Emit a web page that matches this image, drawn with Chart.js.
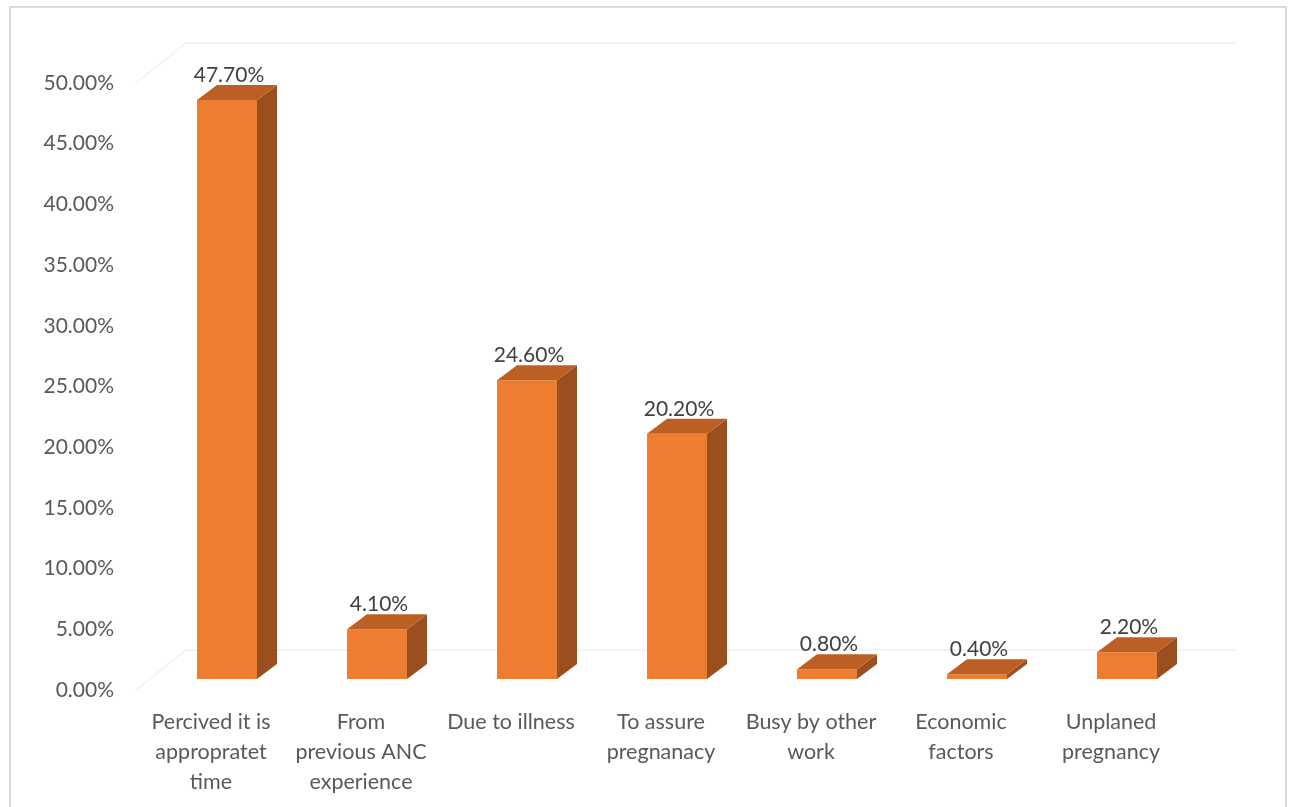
<!DOCTYPE html>
<html>
<head>
<meta charset="utf-8">
<script src="https://cdn.jsdelivr.net/npm/chart.js@4.4.1/dist/chart.umd.min.js"></script>
<style>
  body { margin: 0; overflow: hidden; background: #fff; }
  #frame { position: absolute; left: 9px; top: 6px; width: 1274px; height: 900px; border: 2px solid #d9d9d9; }
  #wrap { position: absolute; left: 0; top: 0; width: 1291px; height: 807px; }
</style>
</head>
<body>
<div id="frame"></div>
<div id="wrap"><canvas id="chart"></canvas></div>
<script>
const categories = [
    ['Percived it is', 'appropratet', 'time'],
    ['From', 'previous ANC', 'experience'],
    'Due to illness',
    ['To assure', 'pregnanacy'],
    ['Busy by other', 'work'],
    ['Economic', 'factors'],
    ['Unplaned', 'pregnancy']
];
const percentages = [47.7, 4.1, 24.6, 20.2, 0.8, 0.4, 2.2];
const yMax = 50;
const yStep = 5;

const FONT = 'Lato, "Open Sans", sans-serif';

// fake 3d: front plane shift of the bars, bar depth, wall depth
const shiftX = 16, shiftY = -11;
const depthX = 20, depthY = -15;
const wallX = 50, wallY = -40;

const bars3d = {
    id: 'bars3d',
    beforeDatasetsDraw(chart) {
        const c = chart.ctx;
        const a = chart.chartArea;
        const y = chart.scales.y;
        const top = y.getPixelForValue(yMax), bot = y.getPixelForValue(0);
        c.save();
        c.strokeStyle = '#f0f0f0';
        c.lineWidth = 1.5;
        c.beginPath();
        c.moveTo(a.left, top); c.lineTo(a.left + wallX, top + wallY);
        c.lineTo(a.right + wallX, top + wallY);
        c.moveTo(a.left, bot); c.lineTo(a.left + wallX, bot + wallY);
        c.lineTo(a.right + wallX, bot + wallY);
        c.stroke();
        c.restore();
        c.save();
        c.translate(shiftX, shiftY);
    },
    afterDatasetsDraw(chart) {
        const c = chart.ctx;
        c.restore();
        const meta = chart.getDatasetMeta(0);
        meta.data.forEach((bar, i) => {
            const p = bar.getProps(['x', 'y', 'base', 'width'], true);
            const l = p.x - p.width / 2 + shiftX, r = p.x + p.width / 2 + shiftX;
            const t = p.y + shiftY, b = p.base + shiftY;
            // side
            c.fillStyle = '#9b4f1e';
            c.beginPath();
            c.moveTo(r, t); c.lineTo(r + depthX, t + depthY);
            c.lineTo(r + depthX, b + depthY); c.lineTo(r, b);
            c.closePath(); c.fill();
            // top
            c.fillStyle = '#bb5f24';
            c.beginPath();
            c.moveTo(l, t); c.lineTo(l + depthX, t + depthY);
            c.lineTo(r + depthX, t + depthY); c.lineTo(r, t);
            c.closePath(); c.fill();
            // value label
            c.fillStyle = '#404040';
            c.font = '21px ' + FONT;
            c.textAlign = 'center';
            c.textBaseline = 'alphabetic';
            c.fillText(percentages[i].toFixed(2) + '%', p.x + shiftX + 2, t + depthY - 3);
        });
    }
};

new Chart(document.getElementById('chart'), {
    type: 'bar',
    data: {
        labels: categories,
        datasets: [{
            data: percentages,
            backgroundColor: '#ed7d31',
            borderWidth: 0,
            barPercentage: 0.4,
            categoryPercentage: 1,
            clip: false
        }]
    },
    options: {
        responsive: true,
        maintainAspectRatio: false,
        animation: false,
        layout: { padding: { top: 83, right: 105, left: 0, bottom: 0 } },
        plugins: { legend: { display: false }, tooltip: { enabled: false } },
        scales: {
            x: {
                grid: { display: false, drawTicks: false },
                border: { display: false },
                ticks: {
                    color: '#595959',
                    font: { family: FONT, size: 21.5, lineHeight: 1.4 },
                    maxRotation: 0,
                    autoSkip: false,
                    padding: 17
                },
                afterFit(scale) { scale.height = 117; }
            },
            y: {
                min: 0,
                max: yMax,
                grid: { display: false, drawTicks: false },
                border: { display: false },
                ticks: {
                    stepSize: yStep,
                    color: '#595959',
                    font: { family: FONT, size: 21 },
                    padding: 22,
                    callback: v => v.toFixed(2) + '%'
                },
                afterFit(scale) { scale.width = 136; }
            }
        }
    },
    plugins: [bars3d]
});
</script>
</body>
</html>
